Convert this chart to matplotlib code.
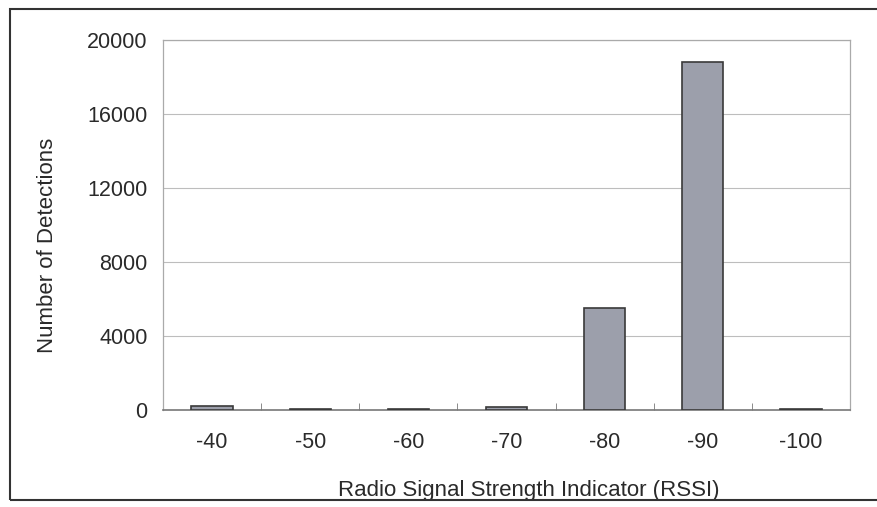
import matplotlib
matplotlib.use("Agg")
import matplotlib.pyplot as plt
from matplotlib.patches import Rectangle

categories = ["-40", "-50", "-60", "-70", "-80", "-90", "-100"]
detections = [200, 60, 80, 150, 5500, 18800, 30]
yticks = [0, 4000, 8000, 12000, 16000, 20000]

plt.rcParams['font.family'] = ['Liberation Sans', 'DejaVu Sans']
FS = 15.5
TXT = "#2a2a2a"

fig = plt.figure(figsize=(8.77, 5.07), dpi=100)
ax = fig.add_axes([163 / 877, 1 - 410 / 507, (850 - 163) / 877, (410 - 40) / 507])

x = list(range(len(categories)))
ax.bar(x, detections, width=0.42, color="#9c9fab", edgecolor="#3a3a3a", linewidth=1.2, zorder=3)

ax.set_xlim(-0.5, len(categories) - 0.5)
ax.set_ylim(0, 20000)
ax.set_yticks(yticks)
ax.set_yticklabels([str(v) for v in yticks], fontsize=FS, color=TXT)
ax.set_xticks(x)
ax.set_xticklabels(categories, fontsize=FS, color=TXT)
ax.tick_params(axis='x', length=0, pad=16)
ax.tick_params(axis='y', length=0, pad=11)
# boundary ticks on the x axis
ax.set_xticks([i + 0.5 for i in x[:-1]], minor=True)
ax.tick_params(axis='x', which='minor', direction='in', length=5, color="#777777")

ax.grid(axis='y', color="#bdbdbd", linewidth=0.8, zorder=0)
for s in ['top', 'right', 'left']:
    ax.spines[s].set_color("#aaaaaa")
    ax.spines[s].set_linewidth(0.9)
ax.spines['bottom'].set_color("#777777")
ax.spines['bottom'].set_linewidth(1.2)

ax.set_ylabel("Number of Detections", fontsize=16, color=TXT)
ax.yaxis.set_label_coords(-0.153, 0.446)
ax.set_xlabel("Radio Signal Strength Indicator (RSSI)", fontsize=16, color=TXT, labelpad=19)
ax.xaxis.label.set_x(0.533)

# outer chart frame
fig.patches.append(Rectangle((10 / 877, 1 - 500 / 507), 1.2, (500 - 9) / 507,
                             transform=fig.transFigure, fill=False,
                             edgecolor="#333333", linewidth=1.5))

fig.savefig("out.png", dpi=100)
